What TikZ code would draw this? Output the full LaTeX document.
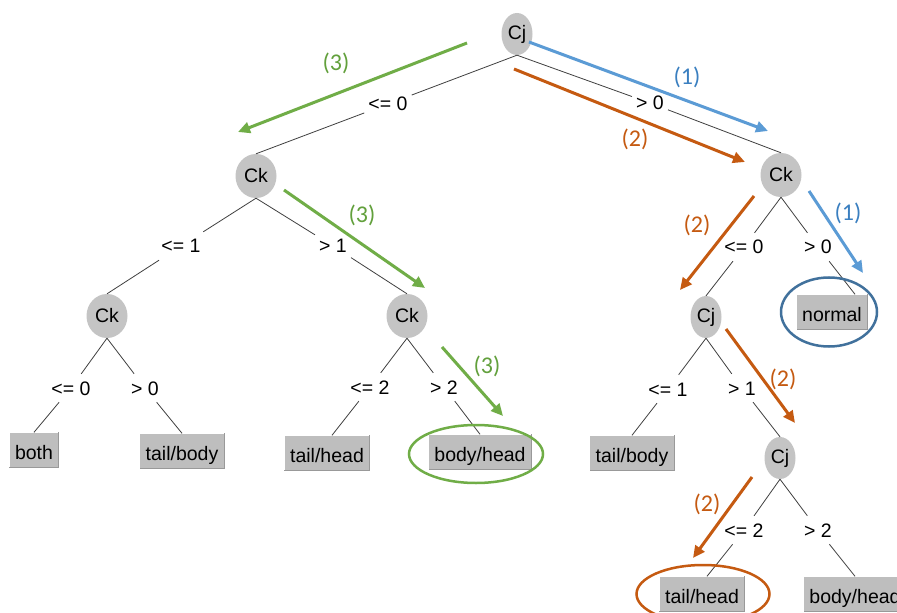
\documentclass[tikz,border=0pt]{standalone}
\usepackage{fontspec}
\setmainfont{Liberation Sans}
\newfontfamily\calib{Carlito}
\usetikzlibrary{shapes.geometric,arrows.meta,calc}
\definecolor{hgreen}{HTML}{70AD47}
\definecolor{hblue}{HTML}{5B9BD5}
\definecolor{hbrown}{HTML}{C55A11}
\definecolor{tgreen}{HTML}{62A03C}
\definecolor{tblue}{HTML}{3A7FC0}
\definecolor{tbrown}{HTML}{C55A11}
\definecolor{eblue}{HTML}{41719C}
\definecolor{nodegray}{HTML}{C4C4C4}
\definecolor{leafgray}{HTML}{BEBEBE}
\tikzset{
  txt/.style={font=\fontsize{19.5bp}{22bp}\selectfont},
  cjnode/.style={txt, ellipse, fill=nodegray, inner sep=0pt, minimum width=31bp, minimum height=42bp},
  cknode/.style={txt, ellipse, fill=nodegray, inner sep=0pt, minimum width=41bp, minimum height=44bp},
  leaf/.style={txt, rectangle, fill=leafgray, inner xsep=5.5bp, inner ysep=0pt, minimum height=35bp, text height=18bp, text depth=0bp},
  leafshadow/.style={draw=black!40, line width=1bp},
  cond/.style={txt, fill=white, inner xsep=4bp, inner ysep=7bp, text height=14bp, text depth=0bp},
  treeline/.style={draw=black!75, line width=0.8bp},
  hlarrow/.style={line width=3bp, -{Triangle[length=12bp,width=11bp]}},
  hlring/.style={ellipse, line width=2.5bp, inner sep=0pt},
  num/.style={font=\calib\fontsize{24bp}{26bp}\selectfont, inner sep=0pt}
}
\begin{document}
\begin{tikzpicture}[x=1bp,y=-1bp]
\useasboundingbox (0,0) rectangle (897,613);
\clip (0,0) rectangle (897,613);
\fill[white] (0,0) rectangle (897,613);

% decision nodes
\node[cjnode] (cj0) at (517,34) {Cj};
\node[cknode] (ckL) at (256,176) {Ck};
\node[cknode] (ckR) at (781,175) {Ck};
\node[cknode] (ck1) at (107,316) {Ck};
\node[cknode] (ck2) at (407,316) {Ck};
\node[cjnode] (cj2) at (706,317) {Cj};
\node[cjnode] (cj3) at (780,458) {Cj};

% leaves
\node[leaf] (both) at (34,450) {both};
\node[leaf] (tb1) at (182,451) {tail/body};
\node[leaf] (th1) at (327,453) {tail/head};
\node[leaf] (bh1) at (480,452) {body/head};
\node[leaf] (nor) at (832,312) {normal};
\node[leaf] (tb2) at (632,453) {tail/body};
\node[leaf] (th2) at (702,594) {tail/head};
\node[leaf] (bh2) at (855,594) {body/head};
\foreach \n in {both,tb1,th1,bh1,nor,tb2,th2,bh2}
  \draw[leafshadow] (\n.north east) -- (\n.south east) -- (\n.south west);

% condition labels
\node[cond] (c1) at (388,104) {<= 0};
\node[cond] (c2) at (650,103) {> 0};
\node[cond] (c3) at (181,246) {<= 1};
\node[cond] (c4) at (333,246) {> 1};
\node[cond] (c5) at (744,247) {<= 0};
\node[cond] (c6) at (818,247) {> 0};
\node[cond] (c7) at (71,388) {<= 0};
\node[cond] (c8) at (145,388) {> 0};
\node[cond] (c9) at (370,387) {<= 2};
\node[cond] (c10) at (444,387) {> 2};
\node[cond] (c11) at (668,389) {<= 1};
\node[cond] (c12) at (742,388) {> 1};
\node[cond] (c13) at (744,530) {<= 2};
\node[cond] (c14) at (818,530) {> 2};

% tree lines
\draw[treeline] (cj0.south) -- (c1) -- (ckL.north);
\draw[treeline] (cj0.south) -- (c2) -- (ckR.north);
\draw[treeline] (ckL.south) -- (c3) -- (ck1.north);
\draw[treeline] (ckL.south) -- (c4) -- (ck2.north);
\draw[treeline] (ckR.south) -- (c5) -- (cj2.north);
\draw[treeline] (ckR.south) -- (c6) -- ($(nor.north)+(23,0)$);
\draw[treeline] (ck1.south) -- (c7) -- (both.north);
\draw[treeline] (ck1.south) -- (c8) -- (tb1.north);
\draw[treeline] (ck2.south) -- (c9) -- ($(th1.north)+(5,0)$);
\draw[treeline] (ck2.south) -- (c10) -- (bh1.north);
\draw[treeline] (cj2.south) -- (c11) -- (tb2.north);
\draw[treeline] (cj2.south) -- (c12) -- (cj3.north);
\draw[treeline] (cj3.south) -- (c13) -- ($(th2.north)+(5,0)$);
\draw[treeline] (cj3.south) -- (c14) -- (bh2.north);

% highlight rings
\node[hlring, draw=hgreen, minimum width=134bp, minimum height=58bp] (r1) at (476,454) {};
\node[hlring, draw=eblue, minimum width=96bp, minimum height=69bp] (r2) at (829,312) {};
\node[hlring, draw=hbrown, minimum width=133bp, minimum height=58bp] (r3) at (703,594) {};

% highlight arrows
\coordinate (g1s) at (467,43);  \coordinate (g1e) at (238,132);
\coordinate (g2s) at (284,190); \coordinate (g2e) at (425,288);
\coordinate (g3s) at (442,347); \coordinate (g3e) at (503,416);
\coordinate (b1s) at (529,42);  \coordinate (b1e) at (768,131);
\coordinate (b2s) at (809,191); \coordinate (b2e) at (863,273);
\coordinate (o1s) at (514,69);  \coordinate (o1e) at (745,162);
\coordinate (o2s) at (754,196); \coordinate (o2e) at (680,290);
\coordinate (o3s) at (726,329); \coordinate (o3e) at (795,423);
\coordinate (o4s) at (752,477); \coordinate (o4e) at (693,558);
\draw[hlarrow, hgreen] (g1s) -- (g1e);
\draw[hlarrow, hgreen] (g2s) -- (g2e);
\draw[hlarrow, hgreen] (g3s) -- (g3e);
\draw[hlarrow, hblue] (b1s) -- (b1e);
\draw[hlarrow, hblue] (b2s) -- (b2e);
\draw[hlarrow, hbrown] (o1s) -- (o1e);
\draw[hlarrow, hbrown] (o2s) -- (o2e);
\draw[hlarrow, hbrown] (o3s) -- (o3e);
\draw[hlarrow, hbrown] (o4s) -- (o4e);

% step numbers
\node[num, text=tgreen] (n1) at (336,63) {(3)};
\node[num, text=tgreen] (n2) at (362,215) {(3)};
\node[num, text=tgreen] (n3) at (487,366) {(3)};
\node[num, text=tblue] (n4) at (687,77) {(1)};
\node[num, text=tblue] (n5) at (848,213) {(1)};
\node[num, text=tbrown] (n6) at (635,139) {(2)};
\node[num, text=tbrown] (n7) at (697,225) {(2)};
\node[num, text=tbrown] (n8) at (783,379) {(2)};
\node[num, text=tbrown] (n9) at (707,504) {(2)};
\end{tikzpicture}
\end{document}
